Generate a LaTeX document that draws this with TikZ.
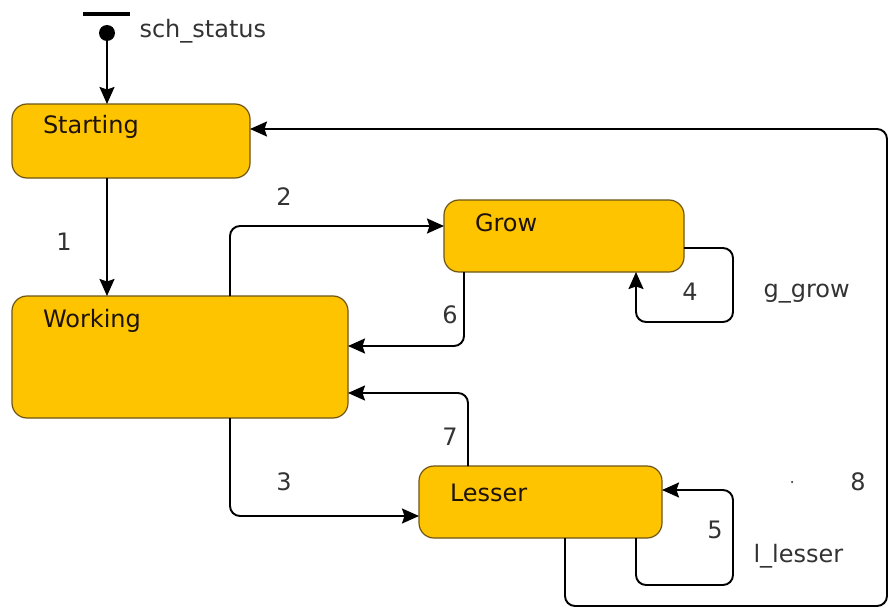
\documentclass[tikz,border=0pt]{standalone}
\usepackage{fontspec}
\setmainfont{DejaVu Sans}
\usepackage{tikz}
\usetikzlibrary{arrows.meta,calc,positioning}
\definecolor{stfill}{RGB}{255,196,0}
\definecolor{stline}{RGB}{110,85,20}
\tikzset{>={Stealth[length=17pt,width=15pt,inset=2.5pt]},
	statebox/.style={% state boxes, name in the upper left corner
		draw=stline, fill=stfill,
		line width=1.2pt,
		rounded corners=15pt,
		anchor=north west,
		outer sep=0pt,
		inner xsep=31pt, inner ysep=4pt,
		align=left,
		font=\fontsize{24}{28}\selectfont,
		text=black!85!brown
	},
	trans/.style={->, line width=1.9pt, rounded corners=10pt},
	lbl/.style={font=\fontsize{24}{28}\selectfont, text=black!80}
}
\begin{document}
\begin{tikzpicture}[x=1pt,y=-1pt]
	\useasboundingbox (0,0) rectangle (889,610);
	% initial marker
	\draw [line width=3.5pt] (83,14) -- (130,14);
	\node [circle, fill, inner sep=0pt, minimum size=16pt] (vs) at (107,33) {};
	\node [lbl, anchor=west] (vsname) at (136,31) {sch\_status};
	% states
	\node [statebox, text width=176pt, text height=25pt, text depth=41pt] (vstart) at (12,104) {Starting};
	\node [statebox, text width=274pt, text height=27pt, text depth=87pt] (vwork) at (12,296) {Working};
	\node [statebox, text width=178pt, text height=27pt, text depth=37pt] (vgrow) at (444,200) {Grow};
	\node [statebox, text width=181pt, text height=31pt, text depth=33pt] (vless) at (419,466) {Lesser};
	% transitions
	\draw [trans] (vs) -- (vs |- vstart.north);
	\draw [trans] (vs |- vstart.south) -- (vs |- vwork.north);
	\draw [trans] ([xshift=218pt]vwork.north west) |- ([yshift=10pt]vgrow.west);
	\draw [trans] ([xshift=218pt]vwork.south west) |- ([yshift=-14pt]vless.west);
	\draw [trans] ([xshift=20pt]vgrow.south west) |- ([yshift=11pt]vwork.east);
	\draw [trans] ([xshift=49pt]vless.north west) |- ([yshift=-36pt]vwork.east);
	\draw [trans] ([yshift=-12pt]vgrow.east) -- ++(49,0) -- ++(0,74) -| ([xshift=-48pt]vgrow.south east);
	\draw [trans] ([xshift=-26pt]vless.south east) -- ++(0,47) -- ++(97,0) |- ([yshift=12pt]vless.east);
	\draw [trans] ([xshift=146pt]vless.south west) -- ++(0,68) -- ++(322,0) |- ([yshift=12pt]vstart.east);
	% labels
	\node [lbl] (t1) at (64,242) {1};
	\node [lbl] (t2) at (284,197) {2};
	\node [lbl] (t3) at (284,482) {3};
	\node [lbl] (t4) at (690,292) {4};
	\node [lbl] (t5) at (715,530) {5};
	\node [lbl] (t6) at (450,315) {6};
	\node [lbl] (t7) at (450,437) {7};
	\node [lbl] (t8) at (858,482) {8};
	\node [lbl, anchor=west] (tgrow) at (760,294) {g\_grow};
	\node [lbl, anchor=west] (tless) at (750,556) {l\_lesser};
	\node [circle, fill=black!70, inner sep=0pt, minimum size=2.5pt] (vdot) at (792,482) {};
\end{tikzpicture}
\end{document}
